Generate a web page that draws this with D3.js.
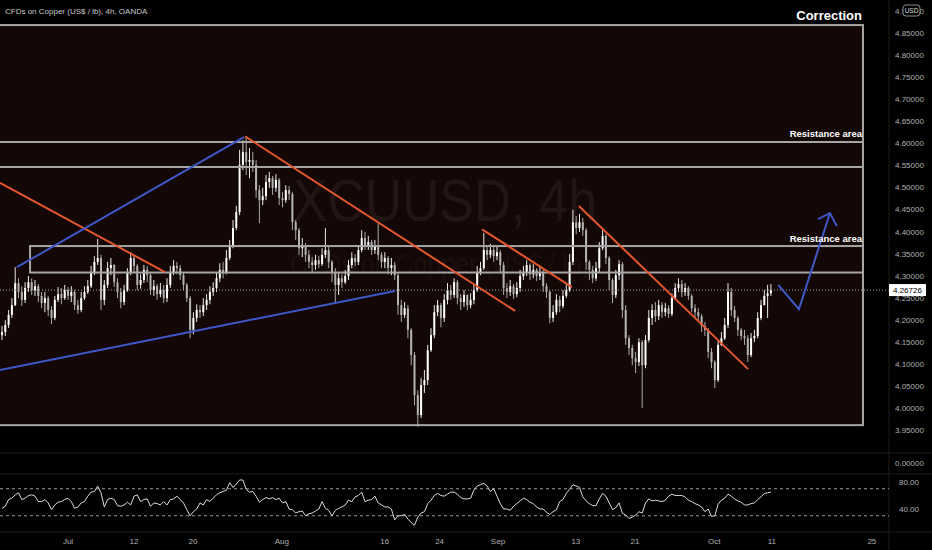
<!DOCTYPE html>
<html>
<head>
<meta charset="utf-8">
<script src="https://cdn.jsdelivr.net/npm/d3@7"></script>
<style>
  html, body { margin: 0; padding: 0; background: #000; }
  svg { display: block; }
  text { font-family: "Liberation Sans", "DejaVu Sans", sans-serif; }
</style>
</head>
<body>
<svg id="chart" width="932" height="550"></svg>
<script>
// XCUUSD 4h candles (open of each candle = previous close)
const firstOpen = 4.165;
const closes = [
  4.172, 4.188, 4.211, 4.233, 4.283, 4.263, 4.245, 4.272, 4.285, 4.267,
  4.276, 4.254, 4.238, 4.249, 4.222, 4.204, 4.245, 4.258, 4.249, 4.267,
  4.254, 4.263, 4.233, 4.222, 4.249, 4.263, 4.276, 4.308, 4.331, 4.340,
  4.245, 4.279, 4.317, 4.324, 4.285, 4.263, 4.240, 4.267, 4.308, 4.340,
  4.322, 4.279, 4.290, 4.313, 4.301, 4.267, 4.276, 4.258, 4.267, 4.249,
  4.279, 4.308, 4.322, 4.317, 4.301, 4.279, 4.249, 4.177, 4.204, 4.222,
  4.217, 4.233, 4.245, 4.263, 4.272, 4.294, 4.313, 4.308, 4.340, 4.369,
  4.408, 4.444, 4.551, 4.580, 4.558, 4.562, 4.551, 4.494, 4.471, 4.480,
  4.512, 4.521, 4.499, 4.517, 4.476, 4.471, 4.494, 4.485, 4.421, 4.403,
  4.362, 4.369, 4.347, 4.331, 4.324, 4.335, 4.326, 4.347, 4.358, 4.331,
  4.308, 4.279, 4.294, 4.285, 4.299, 4.324, 4.340, 4.331, 4.358, 4.385,
  4.369, 4.376, 4.358, 4.367, 4.347, 4.331, 4.340, 4.317, 4.324, 4.301,
  4.233, 4.211, 4.226, 4.177, 4.120, 4.029, 3.984, 4.052, 4.063, 4.131,
  4.165, 4.217, 4.233, 4.204, 4.245, 4.267, 4.256, 4.285, 4.249, 4.240,
  4.256, 4.233, 4.245, 4.267, 4.308, 4.317, 4.358, 4.347, 4.358, 4.344,
  4.353, 4.324, 4.272, 4.263, 4.276, 4.258, 4.272, 4.299, 4.308, 4.324,
  4.303, 4.313, 4.299, 4.308, 4.276, 4.263, 4.204, 4.217, 4.245, 4.231,
  4.254, 4.267, 4.331, 4.421, 4.408, 4.421, 4.403, 4.331, 4.313, 4.294,
  4.317, 4.362, 4.390, 4.340, 4.290, 4.256, 4.301, 4.326, 4.222, 4.158,
  4.136, 4.113, 4.104, 4.149, 4.097, 4.154, 4.204, 4.222, 4.208, 4.233,
  4.217, 4.226, 4.213, 4.249, 4.272, 4.281, 4.263, 4.272, 4.254, 4.226,
  4.217, 4.208, 4.186, 4.177, 4.127, 4.104, 4.063, 4.143, 4.158, 4.188,
  4.263, 4.222, 4.204, 4.177, 4.163, 4.158, 4.120, 4.158, 4.163, 4.204,
  4.233, 4.254, 4.260, 4.26726
];
const highs = [
  4.186, 4.199, 4.222, 4.249, 4.319, 4.294, 4.276, 4.285, 4.299, 4.294,
  4.290, 4.281, 4.263, 4.263, 4.254, 4.231, 4.254, 4.274, 4.272, 4.279,
  4.274, 4.276, 4.267, 4.245, 4.263, 4.276, 4.290, 4.322, 4.344, 4.383,
  4.347, 4.290, 4.331, 4.340, 4.326, 4.294, 4.272, 4.279, 4.317, 4.353,
  4.347, 4.326, 4.303, 4.324, 4.322, 4.308, 4.290, 4.281, 4.283, 4.279,
  4.294, 4.322, 4.335, 4.331, 4.324, 4.308, 4.283, 4.254, 4.217, 4.235,
  4.233, 4.249, 4.258, 4.276, 4.285, 4.308, 4.328, 4.331, 4.358, 4.381,
  4.426, 4.458, 4.585, 4.607, 4.614, 4.589, 4.580, 4.562, 4.505, 4.499,
  4.528, 4.535, 4.526, 4.530, 4.521, 4.490, 4.505, 4.503, 4.490, 4.426,
  4.408, 4.385, 4.374, 4.358, 4.342, 4.347, 4.344, 4.362, 4.408, 4.369,
  4.335, 4.317, 4.308, 4.303, 4.313, 4.335, 4.353, 4.349, 4.369, 4.403,
  4.399, 4.390, 4.381, 4.381, 4.419, 4.353, 4.353, 4.344, 4.340, 4.331,
  4.308, 4.245, 4.240, 4.233, 4.181, 4.127, 4.040, 4.068, 4.086, 4.143,
  4.181, 4.233, 4.245, 4.238, 4.258, 4.283, 4.279, 4.294, 4.290, 4.258,
  4.267, 4.258, 4.260, 4.279, 4.322, 4.331, 4.397, 4.369, 4.372, 4.365,
  4.367, 4.358, 4.331, 4.283, 4.290, 4.281, 4.285, 4.313, 4.322, 4.335,
  4.328, 4.326, 4.317, 4.322, 4.313, 4.283, 4.267, 4.233, 4.258, 4.254,
  4.267, 4.281, 4.349, 4.449, 4.435, 4.440, 4.431, 4.408, 4.335, 4.322,
  4.331, 4.376, 4.403, 4.394, 4.344, 4.294, 4.313, 4.335, 4.331, 4.233,
  4.165, 4.143, 4.127, 4.158, 4.154, 4.165, 4.222, 4.235, 4.240, 4.245,
  4.240, 4.238, 4.233, 4.260, 4.283, 4.294, 4.290, 4.283, 4.276, 4.258,
  4.235, 4.226, 4.213, 4.195, 4.181, 4.136, 4.109, 4.154, 4.172, 4.204,
  4.283, 4.272, 4.231, 4.208, 4.181, 4.177, 4.165, 4.170, 4.177, 4.217,
  4.245, 4.267, 4.279, 4.281
];
const lows = [
  4.154, 4.163, 4.181, 4.204, 4.231, 4.249, 4.231, 4.238, 4.263, 4.256,
  4.254, 4.240, 4.226, 4.217, 4.208, 4.190, 4.199, 4.240, 4.235, 4.245,
  4.245, 4.240, 4.222, 4.213, 4.217, 4.245, 4.258, 4.272, 4.301, 4.324,
  4.222, 4.233, 4.272, 4.301, 4.274, 4.249, 4.226, 4.233, 4.263, 4.301,
  4.308, 4.267, 4.270, 4.283, 4.285, 4.256, 4.254, 4.245, 4.251, 4.238,
  4.240, 4.272, 4.301, 4.303, 4.290, 4.267, 4.240, 4.158, 4.167, 4.195,
  4.204, 4.208, 4.222, 4.235, 4.254, 4.263, 4.285, 4.294, 4.303, 4.335,
  4.362, 4.403, 4.437, 4.539, 4.528, 4.521, 4.535, 4.476, 4.419, 4.460,
  4.471, 4.499, 4.483, 4.490, 4.460, 4.455, 4.465, 4.471, 4.403, 4.381,
  4.347, 4.342, 4.331, 4.317, 4.308, 4.313, 4.317, 4.322, 4.340, 4.317,
  4.285, 4.240, 4.256, 4.272, 4.281, 4.290, 4.317, 4.322, 4.324, 4.353,
  4.358, 4.358, 4.347, 4.349, 4.335, 4.317, 4.317, 4.303, 4.301, 4.290,
  4.211, 4.195, 4.204, 4.158, 4.097, 4.006, 3.957, 3.977, 4.034, 4.052,
  4.127, 4.158, 4.208, 4.183, 4.195, 4.235, 4.245, 4.249, 4.235, 4.222,
  4.229, 4.222, 4.226, 4.235, 4.263, 4.301, 4.313, 4.335, 4.340, 4.331,
  4.335, 4.308, 4.256, 4.249, 4.254, 4.247, 4.251, 4.263, 4.290, 4.299,
  4.290, 4.294, 4.288, 4.290, 4.263, 4.249, 4.192, 4.195, 4.211, 4.217,
  4.226, 4.249, 4.263, 4.324, 4.394, 4.399, 4.390, 4.313, 4.290, 4.283,
  4.288, 4.308, 4.358, 4.326, 4.267, 4.238, 4.249, 4.290, 4.204, 4.143,
  4.120, 4.097, 4.079, 4.095, 4.000, 4.090, 4.149, 4.188, 4.195, 4.199,
  4.204, 4.208, 4.204, 4.208, 4.245, 4.263, 4.251, 4.254, 4.245, 4.217,
  4.206, 4.199, 4.172, 4.163, 4.113, 4.090, 4.045, 4.059, 4.140, 4.154,
  4.181, 4.208, 4.195, 4.163, 4.154, 4.143, 4.104, 4.115, 4.149, 4.158,
  4.199, 4.233, 4.204, 4.254
];
// RSI(14), one value per candle
const rsi = [
  41, 44, 54, 56, 61, 64, 54, 56, 60, 61, 59, 51, 51, 54, 49, 39, 46, 50, 51, 54,
  56, 51, 41, 43, 49, 51, 59, 65, 66, 74, 64, 43, 54, 56, 54, 45, 44, 46, 50, 46,
  59, 61, 51, 54, 55, 44, 49, 48, 46, 51, 46, 54, 55, 59, 54, 49, 39, 30, 36, 40,
  49, 46, 54, 51, 56, 61, 64, 66, 68, 79, 72, 77, 83, 83, 69, 65, 66, 59, 50, 54,
  57, 55, 57, 54, 56, 49, 51, 40, 39, 34, 36, 37, 30, 33, 34, 37, 40, 51, 41, 38,
  30, 38, 41, 43, 46, 53, 51, 58, 60, 65, 51, 53, 54, 59, 49, 46, 43, 43, 40, 24,
  30, 30, 32, 25, 20, 16, 28, 34, 36, 48, 53, 60, 63, 60, 59, 62, 65, 65, 62, 57,
  55, 55, 56, 68, 74, 76, 78, 74, 66, 70, 59, 48, 40, 40, 38, 44, 48, 52, 56, 54,
  50, 48, 43, 40, 40, 35, 32, 36, 39, 51, 54, 63, 69, 76, 74, 72, 58, 52, 48, 45,
  45, 55, 63, 59, 49, 39, 42, 49, 34, 31, 26, 28, 31, 36, 34, 49, 55, 52, 53, 52,
  51, 53, 59, 62, 60, 60, 60, 58, 53, 51, 48, 46, 43, 36, 40, 29, 30, 47, 53, 56,
  62, 59, 55, 52, 50, 46, 46, 48, 49, 54, 58, 63, 64, 65
];
const rsiBands = [70, 30];
const rsiTicks = [80, 40];
const priceTicks = d3.range(3.95, 4.9001, 0.05);
const timeLabels = ["Jul", "12", "20", "Aug", "16", "24", "Sep", "13", "21", "Oct", "11", "25"];
const timeIdx = [20, 40, 57.9, 84.8, 116, 132.6, 150.3, 173.9, 191.8, 215.8, 233.3, 263.6];
const lastPrice = 4.26726;

// drawings, in [candle index, price]
const outerBox = [[-5, 4.868], [260.9, 3.961]];
const resistanceLines = [4.603, 4.546];
const resistanceBox = [[8.5, 4.367], [260.9, 4.307]];
const orangeLines = [
  [[-0.6, 4.510], [49.4, 4.308]],
  [[73.6, 4.616], [155.5, 4.220]],
  [[145.5, 4.405], [172.7, 4.274]],
  [[174.8, 4.458], [226.1, 4.088]]
];
const blueLines = [
  [[4.5, 4.319], [73.3, 4.614]],
  [[-0.6, 4.086], [119.1, 4.265]]
];
const projection = [[235.2, 4.279], [241.5, 4.224], [250.9, 4.442]];
const arrowHead = [[247.3, 4.428], [250.9, 4.442], [253, 4.412]];

const svg = d3.select("#chart");
const W = 932, H = 550;
const axisX = 889;

const x = d3.scaleLinear().domain([0, closes.length - 1]).range([2, 770.9]);
const y = d3.scaleLinear().domain([3.95, 4.85]).range([430, 33]);
const ry = d3.scaleLinear().domain([0, 100]).range([536, 468.5]);

svg.append("rect").attr("width", W).attr("height", H).attr("fill", "#000");

// box fill
svg.append("rect")
  .attr("x", x(outerBox[0][0])).attr("y", y(outerBox[0][1]))
  .attr("width", x(outerBox[1][0]) - x(outerBox[0][0]))
  .attr("height", y(outerBox[1][1]) - y(outerBox[0][1]))
  .attr("fill", "#140807");

// watermark
svg.append("text")
  .attr("x", 445).attr("y", 221)
  .attr("text-anchor", "middle")
  .attr("textLength", 304).attr("lengthAdjust", "spacingAndGlyphs")
  .style("font-size", "60px")
  .attr("fill", "#ffffff").attr("fill-opacity", 0.06)
  .text("XCUUSD, 4h");
svg.append("text")
  .attr("x", 440).attr("y", 274)
  .attr("text-anchor", "middle")
  .attr("textLength", 300).attr("lengthAdjust", "spacingAndGlyphs")
  .style("font-size", "30px")
  .attr("fill", "#ffffff").attr("fill-opacity", 0.05)
  .text("CFDs on Copper (US$ / lb)");

// candles
const candles = closes.map((c, i) => {
  const o = i === 0 ? firstOpen : closes[i - 1];
  return { i, o, c, h: Math.max(highs[i], o, c), l: Math.min(lows[i], o, c) };
});

const cg = svg.append("g");
cg.selectAll(".wick")
  .data(candles)
  .enter()
  .append("line")
  .attr("x1", (d) => x(d.i)).attr("x2", (d) => x(d.i))
  .attr("y1", (d) => y(d.h)).attr("y2", (d) => y(d.l))
  .attr("stroke", (d) => (d.c >= d.o ? "#e8e8e8" : "#a8a8a8"))
  .attr("stroke-width", 1);
cg.selectAll(".body")
  .data(candles)
  .enter()
  .append("rect")
  .attr("x", (d) => x(d.i) - 1)
  .attr("width", 2)
  .attr("y", (d) => y(Math.max(d.o, d.c)))
  .attr("height", (d) => Math.max(1, Math.abs(y(d.o) - y(d.c))))
  .attr("fill", (d) => (d.c >= d.o ? "#ffffff" : "#b4b4b4"));

// last price dotted line
svg.append("line")
  .attr("x1", 0).attr("x2", axisX)
  .attr("y1", y(lastPrice)).attr("y2", y(lastPrice))
  .attr("stroke", "#a0a0a0").attr("stroke-width", 1)
  .attr("stroke-dasharray", "1,2");

// horizontal levels and boxes
const grey = "#a6a6a6";
svg.append("rect")
  .attr("x", x(outerBox[0][0])).attr("y", y(outerBox[0][1]))
  .attr("width", x(outerBox[1][0]) - x(outerBox[0][0]))
  .attr("height", y(outerBox[1][1]) - y(outerBox[0][1]))
  .attr("fill", "none").attr("stroke", grey).attr("stroke-width", 2);

svg.selectAll(".level")
  .data(resistanceLines)
  .enter()
  .append("line")
  .attr("x1", x(outerBox[0][0])).attr("x2", x(outerBox[1][0]))
  .attr("y1", (d) => y(d)).attr("y2", (d) => y(d))
  .attr("stroke", grey).attr("stroke-width", 2);

svg.append("rect")
  .attr("x", x(resistanceBox[0][0])).attr("y", y(resistanceBox[0][1]))
  .attr("width", x(resistanceBox[1][0]) - x(resistanceBox[0][0]))
  .attr("height", y(resistanceBox[1][1]) - y(resistanceBox[0][1]))
  .attr("fill", "none").attr("stroke", grey).attr("stroke-width", 2);

// trend lines
const line = d3.line().x((d) => x(d[0])).y((d) => y(d[1]));
svg.selectAll(".orange")
  .data(orangeLines)
  .enter()
  .append("path")
  .attr("d", line)
  .attr("fill", "none").attr("stroke", "#e4572e").attr("stroke-width", 2);
svg.selectAll(".blue")
  .data(blueLines.concat([projection, arrowHead]))
  .enter()
  .append("path")
  .attr("d", line)
  .attr("fill", "none").attr("stroke", "#3f58c8").attr("stroke-width", 2)
  .attr("stroke-linejoin", "miter");

// annotations
svg.append("text")
  .attr("x", 862).attr("y", 137).attr("text-anchor", "end")
  .attr("fill", "#fff").style("font-size", "9.5px").style("font-weight", "bold")
  .text("Resistance area");
svg.append("text")
  .attr("x", 862).attr("y", 242).attr("text-anchor", "end")
  .attr("fill", "#fff").style("font-size", "9.5px").style("font-weight", "bold")
  .text("Resistance area");
svg.append("text")
  .attr("x", 862).attr("y", 20).attr("text-anchor", "end")
  .attr("fill", "#fff").style("font-size", "13px").style("font-weight", "bold")
  .text("Correction");

svg.append("text")
  .attr("x", 5).attr("y", 14)
  .attr("fill", "#c8c8c8").style("font-size", "8px")
  .text("CFDs on Copper (US$ / lb), 4h, OANDA");

// lower panes
const sep = "#1c1c1c";
[453, 474, 532].forEach((v) => {
  svg.append("line")
    .attr("x1", 0).attr("x2", W).attr("y1", v).attr("y2", v)
    .attr("stroke", sep).attr("stroke-width", 1);
});
svg.append("line")
  .attr("x1", axisX).attr("x2", axisX).attr("y1", 0).attr("y2", H)
  .attr("stroke", sep).attr("stroke-width", 1);

svg.selectAll(".band")
  .data(rsiBands)
  .enter()
  .append("line")
  .attr("x1", 0).attr("x2", axisX)
  .attr("y1", (d) => ry(d)).attr("y2", (d) => ry(d))
  .attr("stroke", "#9a9a9a").attr("stroke-width", 1)
  .attr("stroke-dasharray", "3,3");

svg.append("path")
  .datum(rsi)
  .attr("d", d3.line().x((d, i) => x(i)).y((d) => ry(d)))
  .attr("fill", "none").attr("stroke", "#dcdcdc").attr("stroke-width", 1);

// price axis
const axisText = "#b0b0b0";
svg.selectAll(".ptick")
  .data(priceTicks)
  .enter()
  .append("text")
  .attr("x", 895).attr("y", (d) => y(d) + 3)
  .attr("fill", axisText).style("font-size", "8px")
  .text((d) => d.toFixed(5));

svg.selectAll(".rtick")
  .data(rsiTicks)
  .enter()
  .append("text")
  .attr("x", 899).attr("y", (d) => ry(d) + 3)
  .attr("fill", axisText).style("font-size", "8px")
  .text((d) => d.toFixed(2));
svg.append("text")
  .attr("x", 895).attr("y", 466)
  .attr("fill", axisText).style("font-size", "8px")
  .text((0).toFixed(5));

// last price label
svg.append("rect")
  .attr("x", axisX).attr("y", y(lastPrice) - 6)
  .attr("width", 37).attr("height", 12)
  .attr("fill", "#ffffff");
svg.append("text")
  .attr("x", 893).attr("y", y(lastPrice) + 3)
  .attr("fill", "#000").style("font-size", "8px")
  .text(lastPrice.toFixed(5));

// currency badge
svg.append("rect")
  .attr("x", 903).attr("y", 5).attr("width", 17).attr("height", 11).attr("rx", 3)
  .attr("fill", "#000").attr("stroke", "#8a8a8a");
svg.append("text")
  .attr("x", 911.5).attr("y", 13).attr("text-anchor", "middle")
  .attr("fill", "#ddd").style("font-size", "6.5px")
  .text("USD");

// time axis
svg.selectAll(".ttick")
  .data(timeLabels)
  .enter()
  .append("text")
  .attr("x", (d, i) => x(timeIdx[i]))
  .attr("y", 544)
  .attr("text-anchor", "middle")
  .attr("fill", axisText).style("font-size", "8px")
  .text((d) => d);
</script>
</body>
</html>
